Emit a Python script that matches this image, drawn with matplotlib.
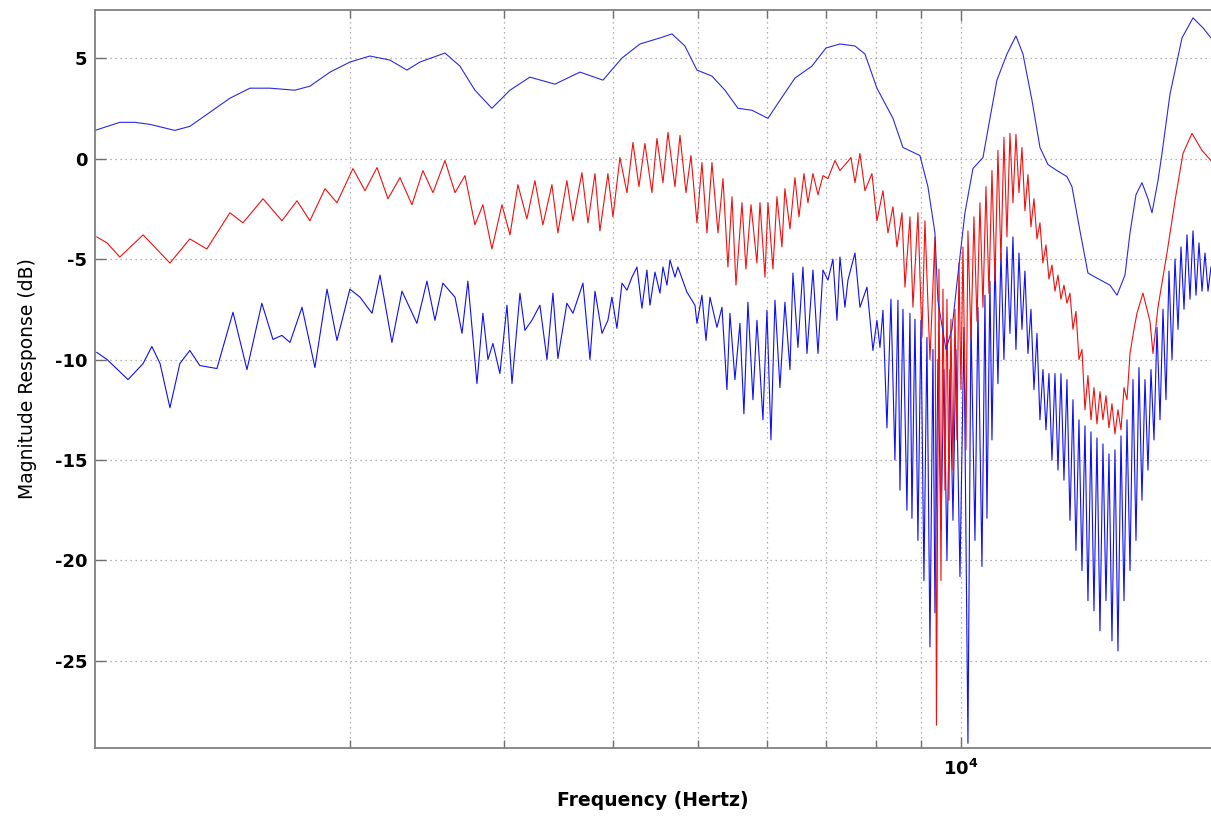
import matplotlib
matplotlib.use('Agg')
import matplotlib.pyplot as plt
from matplotlib.ticker import NullFormatter

# upper (smooth) response
top_f = [1022, 1091, 1135, 1181, 1261, 1312, 1383, 1458, 1537, 1620, 1730, 1800, 1898, 2000,
         2108, 2222, 2324, 2405, 2569, 2672, 2780, 2907, 3049, 3213, 3432, 3666, 3895, 4095,
         4294, 4526, 4671, 4833, 4989, 5190, 5371, 5558, 5767, 6015, 6208, 6458, 6754, 7008,
         7271, 7564, 7766, 8015, 8360, 8583, 8976, 9167, 9338, 9412, 9613, 9766, 9895, 10106,
         10321, 10597, 10794, 10994, 11288, 11559, 11774, 12057, 12314, 12576, 12878, 13221,
         13396, 13682, 13973, 14308, 14807, 15083, 15404, 15609, 15857, 16109, 16366, 16540,
         16803, 16981, 17342, 17900, 18426, 18918, 19321]
top_db = [1.4, 1.8, 1.8, 1.7, 1.4, 1.6, 2.3, 3.0, 3.5, 3.5, 3.4, 3.6, 4.3, 4.8,
          5.1, 4.9, 4.4, 4.8, 5.25, 4.6, 3.4, 2.5, 3.4, 4.05, 3.7, 4.3, 3.9, 5.0,
          5.7, 6.0, 6.2, 5.6, 4.4, 4.1, 3.4, 2.5, 2.4, 2.0, 2.9, 4.0, 4.6, 5.5,
          5.7, 5.6, 5.2, 3.5, 2.0, 0.55, 0.15, -1.4, -3.7, -7.1, -9.5, -8.5, -6.2, -2.7,
          -0.5, 0.05, 2.0, 3.9, 5.2, 6.1, 5.2, 2.9, 0.55, -0.3, -0.6, -0.9,
          -1.4, -3.6, -5.7, -5.95, -6.3, -6.8, -5.8, -3.7, -1.8, -1.2, -2.0, -2.7,
          -1.1, 0.25, 3.2, 6.0, 7.0, 6.5, 6.0]

# middle (red) response, peaks and troughs
red_f = [1027, 1055, 1091, 1160, 1245, 1312, 1372, 1458, 1509, 1591, 1672, 1740, 1800, 1873,
         1933, 2016, 2081, 2148, 2211, 2282, 2355, 2424, 2489, 2569, 2638, 2708, 2780, 2839,
         2907, 2985, 3049, 3113, 3188, 3256, 3325, 3405, 3459, 3542, 3599, 3685, 3744, 3814,
         3864, 3946, 3999, 4073, 4149, 4215, 4282, 4350, 4431, 4490, 4562, 4622, 4708, 4771,
         4847, 4911, 4989, 5055, 5122, 5190, 5273, 5343, 5413, 5471, 5529, 5617, 5676, 5752,
         5843, 5890, 5968, 6015, 6095, 6159, 6241, 6290, 6374, 6458, 6527, 6613, 6683, 6772,
         6862, 6953, 7045, 7176, 7271, 7406, 7485, 7564, 7664, 7766, 7910, 8015, 8143, 8251,
         8360, 8449, 8561, 8629, 8743, 8812, 8929, 9024, 9095, 9216, 9338, 9375, 9437, 9487,
         9537, 9587, 9638, 9689, 9740, 9792, 9843, 9895, 9948, 10000, 10053, 10133, 10186,
         10267, 10348, 10431, 10513, 10597, 10681, 10766, 10851, 10937, 11023, 11111, 11199,
         11288, 11378, 11468, 11559, 11651, 11743, 11836, 11930, 12025, 12120, 12217, 12313,
         12411, 12510, 12609, 12709, 12810, 12912, 13014, 13117, 13221, 13326, 13432, 13538,
         13646, 13754, 13863, 13973, 14084, 14196, 14308, 14422, 14536, 14652, 14768, 14885,
         15003, 15122, 15243, 15364, 15486, 15609, 15773, 15898, 16152, 16452, 16583, 16803,
         17206, 17573, 17947, 18377, 18869, 19321]
red_db = [-3.9, -4.2, -4.9, -3.8, -5.2, -4.0, -4.5, -2.7, -3.2, -2.0, -3.1, -2.1, -3.1, -1.5,
          -2.2, -0.5, -1.6, -0.45, -2.0, -0.95, -2.3, -0.6, -1.7, -0.1, -1.7, -0.85, -3.3, -2.3,
          -4.5, -2.3, -3.8, -1.3, -3.0, -1.1, -3.3, -1.3, -3.7, -1.1, -3.1, -0.7, -3.2, -0.75,
          -3.6, -0.75, -2.9, 0.05, -1.7, 0.8, -1.4, 0.75, -1.7, 1.0, -1.2, 1.3, -1.4, 1.15,
          -1.7, 0.15, -3.2, -0.2, -3.7, -0.2, -3.7, -1.0, -5.4, -1.9, -6.3, -2.2, -5.5, -2.3,
          -5.2, -2.2, -5.9, -2.2, -5.5, -1.9, -4.4, -1.5, -3.5, -0.95, -2.9, -0.75, -2.2, -0.75,
          -1.8, -0.85, -1.0, -0.1, -0.6, -0.2, 0.05, -1.2, 0.25, -1.6, -0.75, -3.1, -1.6, -3.7,
          -2.4, -4.4, -2.7, -6.4, -2.9, -7.4, -2.7, -8.9, -3.1, -10.0, -3.9, -28.2, -5.5, -21.0,
          -6.5, -16.5, -7.0, -17.0, -8.0, -15.5, -7.5, -14.0, -5.2, -11.5, -4.4, -14.5, -3.6,
          -9.0, -2.9, -8.1, -2.2, -7.4, -1.4, -6.7, -0.6, -6.1, 0.4, -5.1, 1.05,
          -3.9, 1.25, -2.2, 1.2, -1.7, 0.55, -2.6, -0.8, -3.4, -2.0, -4.0, -3.2,
          -5.2, -4.3, -6.0, -5.3, -6.6, -5.8, -7.0, -6.3, -7.2, -6.7, -8.5, -7.6,
          -10.0, -9.5, -12.5, -10.8, -13.0, -11.4, -13.2, -11.6, -13.0, -11.8, -13.4, -12.2,
          -13.7, -12.5, -13.5, -11.4, -12.0, -9.7, -8.5, -7.7, -6.7, -8.1, -9.7, -7.4,
          -4.7, -2.1, 0.25, 1.25, 0.4, -0.1]

# lower (blue) response, peaks and troughs
low_f = [1027, 1055, 1115, 1160, 1187, 1213, 1245, 1278, 1312, 1347, 1409, 1470, 1525, 1586,
         1633, 1672, 1708, 1763, 1824, 1883, 1933, 2000, 2054, 2120, 2165, 2234, 2294, 2386,
         2450, 2502, 2555, 2638, 2687, 2729, 2795, 2839, 2877, 2915, 2969, 3025, 3065, 3130,
         3171, 3230, 3299, 3361, 3414, 3459, 3542, 3599, 3695, 3764, 3814, 3885, 3946, 3988,
         4041, 4095, 4149, 4204, 4260, 4316, 4373, 4408, 4467, 4526, 4562, 4610, 4647, 4708,
         4745, 4859, 4963, 4989, 5055, 5109, 5163, 5259, 5329, 5399, 5442, 5514, 5587, 5646,
         5706, 5782, 5843, 5936, 5999, 6063, 6127, 6208, 6290, 6374, 6424, 6509, 6596, 6666,
         6772, 6862, 6953, 7045, 7138, 7214, 7271, 7367, 7426, 7564, 7664, 7807, 7931, 8015,
         8079, 8143, 8229, 8316, 8404, 8471, 8516, 8583, 8674, 8743, 8789, 8859, 8929, 9000,
         9071, 9143, 9216, 9289, 9338, 9412, 9487, 9562, 9638, 9714, 9792, 9869, 9974, 10079,
         10186, 10267, 10376, 10458, 10569, 10653, 10709, 10794, 10851, 10937, 11023, 11111,
         11199, 11288, 11378, 11468, 11559, 11651, 11743, 11836, 11930, 12025, 12120, 12217,
         12313, 12411, 12510, 12609, 12709, 12810, 12912, 13014, 13117, 13221, 13326, 13432,
         13538, 13646, 13754, 13863, 13973, 14084, 14196, 14308, 14422, 14536, 14652, 14768,
         14885, 15003, 15122, 15243, 15364, 15486, 15609, 15732, 15857, 15982, 16109, 16237,
         16366, 16496, 16627, 16759, 16892, 17026, 17161, 17297, 17435, 17573, 17713, 17853,
         17995, 18137, 18281, 18426, 18572, 18719, 18869, 19018, 19169, 19321]
low_db = [-9.65, -10.0, -11.0, -10.2, -9.35, -10.2, -12.4, -10.2, -9.55, -10.3, -10.45, -7.65, -10.5, -7.2,
          -9.0, -8.8, -9.15, -7.4, -10.4, -6.5, -9.05, -6.5, -6.9, -7.7, -5.8, -9.15, -6.6, -8.2,
          -6.1, -8.05, -6.2, -6.9, -8.7, -6.1, -11.2, -7.7, -10.0, -9.2, -10.7, -7.3, -11.2, -6.7,
          -8.55, -8.05, -7.3, -10.0, -6.7, -9.95, -7.2, -7.7, -6.2, -10.0, -6.6, -8.7, -8.05, -6.9,
          -8.45, -6.2, -6.55, -5.9, -5.4, -7.45, -5.55, -7.3, -5.65, -6.7, -5.4, -6.3, -5.05, -5.9,
          -5.4, -6.65, -7.3, -8.2, -6.8, -9.05, -6.9, -8.4, -7.4, -11.5, -7.7, -11.0, -8.2, -12.7,
          -7.15, -12.0, -8.05, -13.0, -7.55, -14.0, -7.05, -11.4, -7.15, -10.5, -5.7, -9.4, -5.4, -9.7,
          -5.55, -9.7, -5.55, -6.05, -5.0, -8.05, -4.9, -7.4, -6.05, -4.7, -7.4, -6.4, -9.55, -8.05,
          -9.4, -7.55, -13.4, -7.0, -15.0, -7.05, -16.5, -7.5, -17.5, -7.7, -17.9, -8.0, -19.0, -8.05,
          -21.0, -8.9, -24.3, -9.5, -22.6, -10.0, -18.5, -10.5, -20.0, -10.5, -18.0, -9.5, -20.8, -8.4,
          -29.1, -8.0, -19.0, -7.4, -20.3, -6.8, -17.9, -6.1, -14.0, -5.0, -11.2, -4.7,
          -10.0, -4.4, -8.7, -3.9, -9.5, -4.7, -8.5, -5.6, -9.7, -7.5, -11.5, -8.7,
          -13.0, -10.5, -13.5, -10.7, -15.0, -10.7, -15.5, -10.7, -16.0, -11.0, -18.0, -12.0,
          -19.5, -13.0, -20.5, -13.3, -22.0, -13.6, -22.5, -13.9, -23.5, -14.2, -22.0, -14.7,
          -24.0, -14.5, -24.5, -13.8, -22.0, -13.0, -20.5, -11.0, -19.0, -10.4, -17.0, -11.0,
          -15.5, -10.5, -14.0, -8.4, -13.0, -7.5, -12.0, -5.6, -10.0, -5.0, -8.5, -4.4,
          -7.5, -3.8, -7.0, -3.6, -6.8, -4.2, -6.6, -4.7, -6.6, -5.4]

yticks = [-25, -20, -15, -10, -5, 0, 5]

fig = plt.figure(figsize=(12.11, 8.17), dpi=100)
ax = fig.add_axes([95 / 1211, 69 / 817, 1116 / 1211, 738 / 817])
ax.set_xscale('log')

ax.plot(low_f, low_db, color='#1010f0', lw=0.8)
ax.plot(red_f, red_db, color='#f01010', lw=0.8)
ax.plot(top_f, top_db, color='#2a2ae0', lw=0.8)

ax.set_xlim(1022, 19321)
ax.set_ylim(-29.33, 7.39)
ax.set_yticks(yticks)
ax.set_yticklabels([str(v) for v in yticks], fontsize=13, fontweight='bold')
ax.set_xticks([10000])
ax.set_xticklabels([r'$\mathbf{10^4}$'], fontsize=13)
ax.xaxis.set_minor_formatter(NullFormatter())

ax.grid(True, which='both', axis='x', color='#9a9a9a', ls=(0, (1, 3)), lw=0.9)
ax.grid(True, which='major', axis='y', color='#9a9a9a', ls=(0, (1, 3)), lw=0.9)

ax.tick_params(which='both', direction='in', top=True, right=False, color='#707070')
ax.tick_params(which='major', length=8, width=1)
ax.tick_params(which='minor', length=6, width=1)
ax.tick_params(axis='y', pad=5.5)
ax.tick_params(axis='x', pad=8)
for s in ['left', 'bottom', 'top']:
    ax.spines[s].set_color('#808080')
    ax.spines[s].set_linewidth(1.3)
ax.spines['right'].set_visible(False)

ax.set_xlabel('Frequency (Hertz)', fontsize=13.5, fontweight='bold')
ax.xaxis.set_label_coords(0.5, -0.058)
ax.set_ylabel('Magnitude Response (dB)', fontsize=13.5)
ax.yaxis.set_label_coords(-0.052, 0.5)

fig.savefig('out.png', dpi=100)
